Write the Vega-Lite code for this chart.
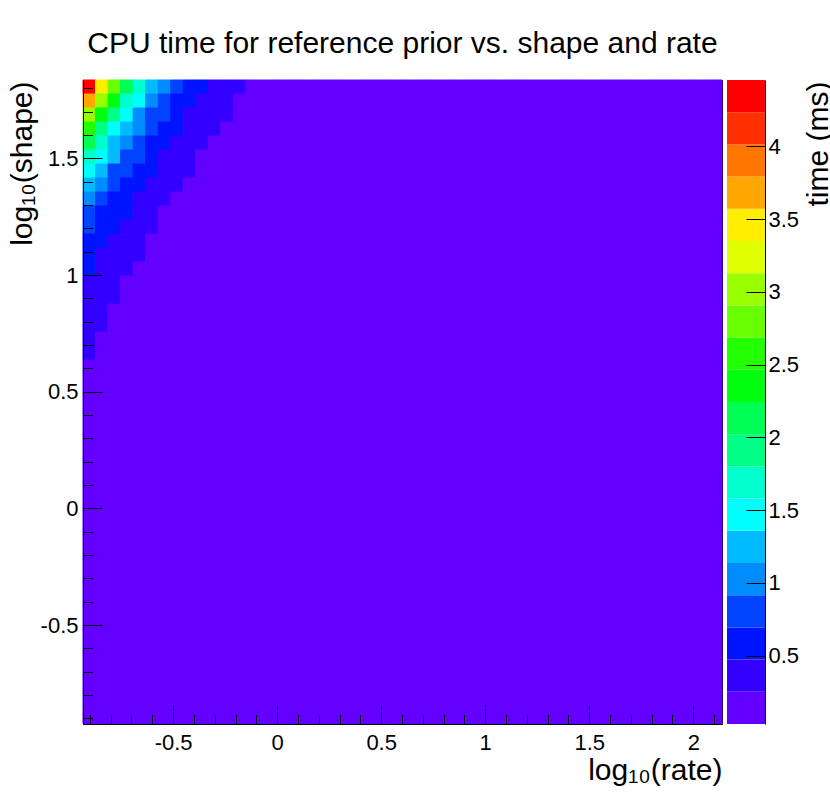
{
  "$schema": "https://vega.github.io/schema/vega-lite/v6.json",
  "width": 639,
  "height": 644,
  "autosize": {"type": "none"},
  "padding": {"left": 83, "top": 80, "right": 108, "bottom": 82},
  "background": "white",
  "config": {
    "font": "Liberation Sans",
    "view": {"stroke": "#000", "strokeWidth": 1},
    "axis": {"zindex": 2, "grid": false, "domainColor": "#000", "tickColor": "#000", "labelColor": "#000", "titleColor": "#000", "labelFont": "Liberation Sans", "titleFont": "Liberation Sans", "labelFontSize": 22, "titleFontSize": 30, "titleFontWeight": "normal", "domainWidth": 1, "tickWidth": 1, "labelFlush": false, "labelOverlap": false}
  },
  "title": {"text": "CPU time for reference prior vs. shape and rate", "fontSize": 30, "fontWeight": "normal", "font": "Liberation Sans", "color": "#000", "anchor": "middle", "baseline": "alphabetic", "offset": -3, "frame": "group"},
  "datasets": {
    "rates": [
      {"i":1,"r0":-0.933,"r1":-0.87278},{"i":2,"r0":-0.87278,"r1":-0.81257},{"i":3,"r0":-0.81257,"r1":-0.75235},{"i":4,"r0":-0.75235,"r1":-0.69214},{"i":5,"r0":-0.69214,"r1":-0.63192},
      {"i":6,"r0":-0.63192,"r1":-0.5717},{"i":7,"r0":-0.5717,"r1":-0.51149},{"i":8,"r0":-0.51149,"r1":-0.45127},{"i":9,"r0":-0.45127,"r1":-0.39106},{"i":10,"r0":-0.39106,"r1":-0.33084},
      {"i":11,"r0":-0.33084,"r1":-0.27062},{"i":12,"r0":-0.27062,"r1":-0.21041},{"i":13,"r0":-0.21041,"r1":-0.15019},{"i":14,"r0":-0.15019,"r1":-0.08998},{"i":15,"r0":-0.08998,"r1":-0.02976},
      {"i":16,"r0":-0.02976,"r1":0.03046},{"i":17,"r0":0.03046,"r1":0.09067},{"i":18,"r0":0.09067,"r1":0.15089},{"i":19,"r0":0.15089,"r1":0.2111},{"i":20,"r0":0.2111,"r1":0.27132},
      {"i":21,"r0":0.27132,"r1":0.33154},{"i":22,"r0":0.33154,"r1":0.39175},{"i":23,"r0":0.39175,"r1":0.45197},{"i":24,"r0":0.45197,"r1":0.51218},{"i":25,"r0":0.51218,"r1":0.5724},
      {"i":26,"r0":0.5724,"r1":0.63262},{"i":27,"r0":0.63262,"r1":0.69283},{"i":28,"r0":0.69283,"r1":0.75305},{"i":29,"r0":0.75305,"r1":0.81326},{"i":30,"r0":0.81326,"r1":0.87348},
      {"i":31,"r0":0.87348,"r1":0.9337},{"i":32,"r0":0.9337,"r1":0.99391},{"i":33,"r0":0.99391,"r1":1.05413},{"i":34,"r0":1.05413,"r1":1.11434},{"i":35,"r0":1.11434,"r1":1.17456},
      {"i":36,"r0":1.17456,"r1":1.23478},{"i":37,"r0":1.23478,"r1":1.29499},{"i":38,"r0":1.29499,"r1":1.35521},{"i":39,"r0":1.35521,"r1":1.41542},{"i":40,"r0":1.41542,"r1":1.47564},
      {"i":41,"r0":1.47564,"r1":1.53586},{"i":42,"r0":1.53586,"r1":1.59607},{"i":43,"r0":1.59607,"r1":1.65629},{"i":44,"r0":1.65629,"r1":1.7165},{"i":45,"r0":1.7165,"r1":1.77672},
      {"i":46,"r0":1.77672,"r1":1.83694},{"i":47,"r0":1.83694,"r1":1.89715},{"i":48,"r0":1.89715,"r1":1.95737},{"i":49,"r0":1.95737,"r1":2.01758},{"i":50,"r0":2.01758,"r1":2.0778},
      {"i":51,"r0":2.0778,"r1":2.138}
    ],
    "cells": [
      {"s0":1.776,"s1":1.836,"t":[4.45,3.46,2.8,2.13,1.69,1.25,1.03,0.81,0.58,0.58,0.36,0.36,0.36,0.1,0.1,0.1,0.1,0.1,0.1,0.1,0.1,0.1,0.1,0.1,0.1,0.1,0.1,0.1,0.1,0.1,0.1,0.1,0.1,0.1,0.1,0.1,0.1,0.1,0.1,0.1,0.1,0.1,0.1,0.1,0.1,0.1,0.1,0.1,0.1,0.1,0.1]},
      {"s0":1.716,"s1":1.776,"t":[3.68,3.02,2.35,1.69,1.47,1.03,0.81,0.58,0.58,0.36,0.36,0.36,0.1,0.1,0.1,0.1,0.1,0.1,0.1,0.1,0.1,0.1,0.1,0.1,0.1,0.1,0.1,0.1,0.1,0.1,0.1,0.1,0.1,0.1,0.1,0.1,0.1,0.1,0.1,0.1,0.1,0.1,0.1,0.1,0.1,0.1,0.1,0.1,0.1,0.1,0.1]},
      {"s0":1.656,"s1":1.716,"t":[3.02,2.35,1.91,1.47,1.03,0.81,0.81,0.58,0.36,0.36,0.36,0.36,0.1,0.1,0.1,0.1,0.1,0.1,0.1,0.1,0.1,0.1,0.1,0.1,0.1,0.1,0.1,0.1,0.1,0.1,0.1,0.1,0.1,0.1,0.1,0.1,0.1,0.1,0.1,0.1,0.1,0.1,0.1,0.1,0.1,0.1,0.1,0.1,0.1,0.1,0.1]},
      {"s0":1.596,"s1":1.656,"t":[2.58,1.91,1.47,1.25,1.03,0.81,0.58,0.58,0.36,0.36,0.36,0.1,0.1,0.1,0.1,0.1,0.1,0.1,0.1,0.1,0.1,0.1,0.1,0.1,0.1,0.1,0.1,0.1,0.1,0.1,0.1,0.1,0.1,0.1,0.1,0.1,0.1,0.1,0.1,0.1,0.1,0.1,0.1,0.1,0.1,0.1,0.1,0.1,0.1,0.1,0.1]},
      {"s0":1.536,"s1":1.596,"t":[2.13,1.69,1.25,1.03,0.81,0.58,0.58,0.36,0.36,0.36,0.1,0.1,0.1,0.1,0.1,0.1,0.1,0.1,0.1,0.1,0.1,0.1,0.1,0.1,0.1,0.1,0.1,0.1,0.1,0.1,0.1,0.1,0.1,0.1,0.1,0.1,0.1,0.1,0.1,0.1,0.1,0.1,0.1,0.1,0.1,0.1,0.1,0.1,0.1,0.1,0.1]},
      {"s0":1.476,"s1":1.536,"t":[1.69,1.47,1.25,0.81,0.81,0.58,0.36,0.36,0.36,0.1,0.1,0.1,0.1,0.1,0.1,0.1,0.1,0.1,0.1,0.1,0.1,0.1,0.1,0.1,0.1,0.1,0.1,0.1,0.1,0.1,0.1,0.1,0.1,0.1,0.1,0.1,0.1,0.1,0.1,0.1,0.1,0.1,0.1,0.1,0.1,0.1,0.1,0.1,0.1,0.1,0.1]},
      {"s0":1.416,"s1":1.476,"t":[1.47,1.25,0.81,0.81,0.58,0.58,0.36,0.36,0.36,0.1,0.1,0.1,0.1,0.1,0.1,0.1,0.1,0.1,0.1,0.1,0.1,0.1,0.1,0.1,0.1,0.1,0.1,0.1,0.1,0.1,0.1,0.1,0.1,0.1,0.1,0.1,0.1,0.1,0.1,0.1,0.1,0.1,0.1,0.1,0.1,0.1,0.1,0.1,0.1,0.1,0.1]},
      {"s0":1.356,"s1":1.416,"t":[1.25,1.03,0.81,0.58,0.58,0.36,0.36,0.36,0.1,0.1,0.1,0.1,0.1,0.1,0.1,0.1,0.1,0.1,0.1,0.1,0.1,0.1,0.1,0.1,0.1,0.1,0.1,0.1,0.1,0.1,0.1,0.1,0.1,0.1,0.1,0.1,0.1,0.1,0.1,0.1,0.1,0.1,0.1,0.1,0.1,0.1,0.1,0.1,0.1,0.1,0.1]},
      {"s0":1.296,"s1":1.356,"t":[1.03,0.81,0.58,0.58,0.36,0.36,0.36,0.1,0.1,0.1,0.1,0.1,0.1,0.1,0.1,0.1,0.1,0.1,0.1,0.1,0.1,0.1,0.1,0.1,0.1,0.1,0.1,0.1,0.1,0.1,0.1,0.1,0.1,0.1,0.1,0.1,0.1,0.1,0.1,0.1,0.1,0.1,0.1,0.1,0.1,0.1,0.1,0.1,0.1,0.1,0.1]},
      {"s0":1.236,"s1":1.296,"t":[0.81,0.58,0.58,0.58,0.36,0.36,0.1,0.1,0.1,0.1,0.1,0.1,0.1,0.1,0.1,0.1,0.1,0.1,0.1,0.1,0.1,0.1,0.1,0.1,0.1,0.1,0.1,0.1,0.1,0.1,0.1,0.1,0.1,0.1,0.1,0.1,0.1,0.1,0.1,0.1,0.1,0.1,0.1,0.1,0.1,0.1,0.1,0.1,0.1,0.1,0.1]},
      {"s0":1.176,"s1":1.236,"t":[0.81,0.58,0.58,0.36,0.36,0.36,0.1,0.1,0.1,0.1,0.1,0.1,0.1,0.1,0.1,0.1,0.1,0.1,0.1,0.1,0.1,0.1,0.1,0.1,0.1,0.1,0.1,0.1,0.1,0.1,0.1,0.1,0.1,0.1,0.1,0.1,0.1,0.1,0.1,0.1,0.1,0.1,0.1,0.1,0.1,0.1,0.1,0.1,0.1,0.1,0.1]},
      {"s0":1.116,"s1":1.176,"t":[0.58,0.58,0.36,0.36,0.36,0.1,0.1,0.1,0.1,0.1,0.1,0.1,0.1,0.1,0.1,0.1,0.1,0.1,0.1,0.1,0.1,0.1,0.1,0.1,0.1,0.1,0.1,0.1,0.1,0.1,0.1,0.1,0.1,0.1,0.1,0.1,0.1,0.1,0.1,0.1,0.1,0.1,0.1,0.1,0.1,0.1,0.1,0.1,0.1,0.1,0.1]},
      {"s0":1.056,"s1":1.116,"t":[0.58,0.36,0.36,0.36,0.36,0.1,0.1,0.1,0.1,0.1,0.1,0.1,0.1,0.1,0.1,0.1,0.1,0.1,0.1,0.1,0.1,0.1,0.1,0.1,0.1,0.1,0.1,0.1,0.1,0.1,0.1,0.1,0.1,0.1,0.1,0.1,0.1,0.1,0.1,0.1,0.1,0.1,0.1,0.1,0.1,0.1,0.1,0.1,0.1,0.1,0.1]},
      {"s0":0.996,"s1":1.056,"t":[0.58,0.36,0.36,0.36,0.1,0.1,0.1,0.1,0.1,0.1,0.1,0.1,0.1,0.1,0.1,0.1,0.1,0.1,0.1,0.1,0.1,0.1,0.1,0.1,0.1,0.1,0.1,0.1,0.1,0.1,0.1,0.1,0.1,0.1,0.1,0.1,0.1,0.1,0.1,0.1,0.1,0.1,0.1,0.1,0.1,0.1,0.1,0.1,0.1,0.1,0.1]},
      {"s0":0.936,"s1":0.996,"t":[0.36,0.36,0.36,0.1,0.1,0.1,0.1,0.1,0.1,0.1,0.1,0.1,0.1,0.1,0.1,0.1,0.1,0.1,0.1,0.1,0.1,0.1,0.1,0.1,0.1,0.1,0.1,0.1,0.1,0.1,0.1,0.1,0.1,0.1,0.1,0.1,0.1,0.1,0.1,0.1,0.1,0.1,0.1,0.1,0.1,0.1,0.1,0.1,0.1,0.1,0.1]},
      {"s0":0.876,"s1":0.936,"t":[0.36,0.36,0.36,0.1,0.1,0.1,0.1,0.1,0.1,0.1,0.1,0.1,0.1,0.1,0.1,0.1,0.1,0.1,0.1,0.1,0.1,0.1,0.1,0.1,0.1,0.1,0.1,0.1,0.1,0.1,0.1,0.1,0.1,0.1,0.1,0.1,0.1,0.1,0.1,0.1,0.1,0.1,0.1,0.1,0.1,0.1,0.1,0.1,0.1,0.1,0.1]},
      {"s0":0.816,"s1":0.876,"t":[0.36,0.36,0.1,0.1,0.1,0.1,0.1,0.1,0.1,0.1,0.1,0.1,0.1,0.1,0.1,0.1,0.1,0.1,0.1,0.1,0.1,0.1,0.1,0.1,0.1,0.1,0.1,0.1,0.1,0.1,0.1,0.1,0.1,0.1,0.1,0.1,0.1,0.1,0.1,0.1,0.1,0.1,0.1,0.1,0.1,0.1,0.1,0.1,0.1,0.1,0.1]},
      {"s0":0.756,"s1":0.816,"t":[0.36,0.36,0.1,0.1,0.1,0.1,0.1,0.1,0.1,0.1,0.1,0.1,0.1,0.1,0.1,0.1,0.1,0.1,0.1,0.1,0.1,0.1,0.1,0.1,0.1,0.1,0.1,0.1,0.1,0.1,0.1,0.1,0.1,0.1,0.1,0.1,0.1,0.1,0.1,0.1,0.1,0.1,0.1,0.1,0.1,0.1,0.1,0.1,0.1,0.1,0.1]},
      {"s0":0.696,"s1":0.756,"t":[0.36,0.1,0.1,0.1,0.1,0.1,0.1,0.1,0.1,0.1,0.1,0.1,0.1,0.1,0.1,0.1,0.1,0.1,0.1,0.1,0.1,0.1,0.1,0.1,0.1,0.1,0.1,0.1,0.1,0.1,0.1,0.1,0.1,0.1,0.1,0.1,0.1,0.1,0.1,0.1,0.1,0.1,0.1,0.1,0.1,0.1,0.1,0.1,0.1,0.1,0.1]},
      {"s0":0.636,"s1":0.696,"t":[0.36,0.1,0.1,0.1,0.1,0.1,0.1,0.1,0.1,0.1,0.1,0.1,0.1,0.1,0.1,0.1,0.1,0.1,0.1,0.1,0.1,0.1,0.1,0.1,0.1,0.1,0.1,0.1,0.1,0.1,0.1,0.1,0.1,0.1,0.1,0.1,0.1,0.1,0.1,0.1,0.1,0.1,0.1,0.1,0.1,0.1,0.1,0.1,0.1,0.1,0.1]},
      {"s0":0.576,"s1":0.636,"t":[0.1,0.1,0.1,0.1,0.1,0.1,0.1,0.1,0.1,0.1,0.1,0.1,0.1,0.1,0.1,0.1,0.1,0.1,0.1,0.1,0.1,0.1,0.1,0.1,0.1,0.1,0.1,0.1,0.1,0.1,0.1,0.1,0.1,0.1,0.1,0.1,0.1,0.1,0.1,0.1,0.1,0.1,0.1,0.1,0.1,0.1,0.1,0.1,0.1,0.1,0.1]},
      {"s0":0.516,"s1":0.576,"t":[0.1,0.1,0.1,0.1,0.1,0.1,0.1,0.1,0.1,0.1,0.1,0.1,0.1,0.1,0.1,0.1,0.1,0.1,0.1,0.1,0.1,0.1,0.1,0.1,0.1,0.1,0.1,0.1,0.1,0.1,0.1,0.1,0.1,0.1,0.1,0.1,0.1,0.1,0.1,0.1,0.1,0.1,0.1,0.1,0.1,0.1,0.1,0.1,0.1,0.1,0.1]},
      {"s0":0.456,"s1":0.516,"t":[0.1,0.1,0.1,0.1,0.1,0.1,0.1,0.1,0.1,0.1,0.1,0.1,0.1,0.1,0.1,0.1,0.1,0.1,0.1,0.1,0.1,0.1,0.1,0.1,0.1,0.1,0.1,0.1,0.1,0.1,0.1,0.1,0.1,0.1,0.1,0.1,0.1,0.1,0.1,0.1,0.1,0.1,0.1,0.1,0.1,0.1,0.1,0.1,0.1,0.1,0.1]},
      {"s0":0.396,"s1":0.456,"t":[0.1,0.1,0.1,0.1,0.1,0.1,0.1,0.1,0.1,0.1,0.1,0.1,0.1,0.1,0.1,0.1,0.1,0.1,0.1,0.1,0.1,0.1,0.1,0.1,0.1,0.1,0.1,0.1,0.1,0.1,0.1,0.1,0.1,0.1,0.1,0.1,0.1,0.1,0.1,0.1,0.1,0.1,0.1,0.1,0.1,0.1,0.1,0.1,0.1,0.1,0.1]},
      {"s0":0.336,"s1":0.396,"t":[0.1,0.1,0.1,0.1,0.1,0.1,0.1,0.1,0.1,0.1,0.1,0.1,0.1,0.1,0.1,0.1,0.1,0.1,0.1,0.1,0.1,0.1,0.1,0.1,0.1,0.1,0.1,0.1,0.1,0.1,0.1,0.1,0.1,0.1,0.1,0.1,0.1,0.1,0.1,0.1,0.1,0.1,0.1,0.1,0.1,0.1,0.1,0.1,0.1,0.1,0.1]},
      {"s0":0.276,"s1":0.336,"t":[0.1,0.1,0.1,0.1,0.1,0.1,0.1,0.1,0.1,0.1,0.1,0.1,0.1,0.1,0.1,0.1,0.1,0.1,0.1,0.1,0.1,0.1,0.1,0.1,0.1,0.1,0.1,0.1,0.1,0.1,0.1,0.1,0.1,0.1,0.1,0.1,0.1,0.1,0.1,0.1,0.1,0.1,0.1,0.1,0.1,0.1,0.1,0.1,0.1,0.1,0.1]},
      {"s0":0.216,"s1":0.276,"t":[0.1,0.1,0.1,0.1,0.1,0.1,0.1,0.1,0.1,0.1,0.1,0.1,0.1,0.1,0.1,0.1,0.1,0.1,0.1,0.1,0.1,0.1,0.1,0.1,0.1,0.1,0.1,0.1,0.1,0.1,0.1,0.1,0.1,0.1,0.1,0.1,0.1,0.1,0.1,0.1,0.1,0.1,0.1,0.1,0.1,0.1,0.1,0.1,0.1,0.1,0.1]},
      {"s0":0.156,"s1":0.216,"t":[0.1,0.1,0.1,0.1,0.1,0.1,0.1,0.1,0.1,0.1,0.1,0.1,0.1,0.1,0.1,0.1,0.1,0.1,0.1,0.1,0.1,0.1,0.1,0.1,0.1,0.1,0.1,0.1,0.1,0.1,0.1,0.1,0.1,0.1,0.1,0.1,0.1,0.1,0.1,0.1,0.1,0.1,0.1,0.1,0.1,0.1,0.1,0.1,0.1,0.1,0.1]},
      {"s0":0.096,"s1":0.156,"t":[0.1,0.1,0.1,0.1,0.1,0.1,0.1,0.1,0.1,0.1,0.1,0.1,0.1,0.1,0.1,0.1,0.1,0.1,0.1,0.1,0.1,0.1,0.1,0.1,0.1,0.1,0.1,0.1,0.1,0.1,0.1,0.1,0.1,0.1,0.1,0.1,0.1,0.1,0.1,0.1,0.1,0.1,0.1,0.1,0.1,0.1,0.1,0.1,0.1,0.1,0.1]},
      {"s0":0.036,"s1":0.096,"t":[0.1,0.1,0.1,0.1,0.1,0.1,0.1,0.1,0.1,0.1,0.1,0.1,0.1,0.1,0.1,0.1,0.1,0.1,0.1,0.1,0.1,0.1,0.1,0.1,0.1,0.1,0.1,0.1,0.1,0.1,0.1,0.1,0.1,0.1,0.1,0.1,0.1,0.1,0.1,0.1,0.1,0.1,0.1,0.1,0.1,0.1,0.1,0.1,0.1,0.1,0.1]},
      {"s0":-0.024,"s1":0.036,"t":[0.1,0.1,0.1,0.1,0.1,0.1,0.1,0.1,0.1,0.1,0.1,0.1,0.1,0.1,0.1,0.1,0.1,0.1,0.1,0.1,0.1,0.1,0.1,0.1,0.1,0.1,0.1,0.1,0.1,0.1,0.1,0.1,0.1,0.1,0.1,0.1,0.1,0.1,0.1,0.1,0.1,0.1,0.1,0.1,0.1,0.1,0.1,0.1,0.1,0.1,0.1]},
      {"s0":-0.084,"s1":-0.024,"t":[0.1,0.1,0.1,0.1,0.1,0.1,0.1,0.1,0.1,0.1,0.1,0.1,0.1,0.1,0.1,0.1,0.1,0.1,0.1,0.1,0.1,0.1,0.1,0.1,0.1,0.1,0.1,0.1,0.1,0.1,0.1,0.1,0.1,0.1,0.1,0.1,0.1,0.1,0.1,0.1,0.1,0.1,0.1,0.1,0.1,0.1,0.1,0.1,0.1,0.1,0.1]},
      {"s0":-0.144,"s1":-0.084,"t":[0.1,0.1,0.1,0.1,0.1,0.1,0.1,0.1,0.1,0.1,0.1,0.1,0.1,0.1,0.1,0.1,0.1,0.1,0.1,0.1,0.1,0.1,0.1,0.1,0.1,0.1,0.1,0.1,0.1,0.1,0.1,0.1,0.1,0.1,0.1,0.1,0.1,0.1,0.1,0.1,0.1,0.1,0.1,0.1,0.1,0.1,0.1,0.1,0.1,0.1,0.1]},
      {"s0":-0.204,"s1":-0.144,"t":[0.1,0.1,0.1,0.1,0.1,0.1,0.1,0.1,0.1,0.1,0.1,0.1,0.1,0.1,0.1,0.1,0.1,0.1,0.1,0.1,0.1,0.1,0.1,0.1,0.1,0.1,0.1,0.1,0.1,0.1,0.1,0.1,0.1,0.1,0.1,0.1,0.1,0.1,0.1,0.1,0.1,0.1,0.1,0.1,0.1,0.1,0.1,0.1,0.1,0.1,0.1]},
      {"s0":-0.264,"s1":-0.204,"t":[0.1,0.1,0.1,0.1,0.1,0.1,0.1,0.1,0.1,0.1,0.1,0.1,0.1,0.1,0.1,0.1,0.1,0.1,0.1,0.1,0.1,0.1,0.1,0.1,0.1,0.1,0.1,0.1,0.1,0.1,0.1,0.1,0.1,0.1,0.1,0.1,0.1,0.1,0.1,0.1,0.1,0.1,0.1,0.1,0.1,0.1,0.1,0.1,0.1,0.1,0.1]},
      {"s0":-0.324,"s1":-0.264,"t":[0.1,0.1,0.1,0.1,0.1,0.1,0.1,0.1,0.1,0.1,0.1,0.1,0.1,0.1,0.1,0.1,0.1,0.1,0.1,0.1,0.1,0.1,0.1,0.1,0.1,0.1,0.1,0.1,0.1,0.1,0.1,0.1,0.1,0.1,0.1,0.1,0.1,0.1,0.1,0.1,0.1,0.1,0.1,0.1,0.1,0.1,0.1,0.1,0.1,0.1,0.1]},
      {"s0":-0.384,"s1":-0.324,"t":[0.1,0.1,0.1,0.1,0.1,0.1,0.1,0.1,0.1,0.1,0.1,0.1,0.1,0.1,0.1,0.1,0.1,0.1,0.1,0.1,0.1,0.1,0.1,0.1,0.1,0.1,0.1,0.1,0.1,0.1,0.1,0.1,0.1,0.1,0.1,0.1,0.1,0.1,0.1,0.1,0.1,0.1,0.1,0.1,0.1,0.1,0.1,0.1,0.1,0.1,0.1]},
      {"s0":-0.444,"s1":-0.384,"t":[0.1,0.1,0.1,0.1,0.1,0.1,0.1,0.1,0.1,0.1,0.1,0.1,0.1,0.1,0.1,0.1,0.1,0.1,0.1,0.1,0.1,0.1,0.1,0.1,0.1,0.1,0.1,0.1,0.1,0.1,0.1,0.1,0.1,0.1,0.1,0.1,0.1,0.1,0.1,0.1,0.1,0.1,0.1,0.1,0.1,0.1,0.1,0.1,0.1,0.1,0.1]},
      {"s0":-0.504,"s1":-0.444,"t":[0.1,0.1,0.1,0.1,0.1,0.1,0.1,0.1,0.1,0.1,0.1,0.1,0.1,0.1,0.1,0.1,0.1,0.1,0.1,0.1,0.1,0.1,0.1,0.1,0.1,0.1,0.1,0.1,0.1,0.1,0.1,0.1,0.1,0.1,0.1,0.1,0.1,0.1,0.1,0.1,0.1,0.1,0.1,0.1,0.1,0.1,0.1,0.1,0.1,0.1,0.1]},
      {"s0":-0.564,"s1":-0.504,"t":[0.1,0.1,0.1,0.1,0.1,0.1,0.1,0.1,0.1,0.1,0.1,0.1,0.1,0.1,0.1,0.1,0.1,0.1,0.1,0.1,0.1,0.1,0.1,0.1,0.1,0.1,0.1,0.1,0.1,0.1,0.1,0.1,0.1,0.1,0.1,0.1,0.1,0.1,0.1,0.1,0.1,0.1,0.1,0.1,0.1,0.1,0.1,0.1,0.1,0.1,0.1]},
      {"s0":-0.624,"s1":-0.564,"t":[0.1,0.1,0.1,0.1,0.1,0.1,0.1,0.1,0.1,0.1,0.1,0.1,0.1,0.1,0.1,0.1,0.1,0.1,0.1,0.1,0.1,0.1,0.1,0.1,0.1,0.1,0.1,0.1,0.1,0.1,0.1,0.1,0.1,0.1,0.1,0.1,0.1,0.1,0.1,0.1,0.1,0.1,0.1,0.1,0.1,0.1,0.1,0.1,0.1,0.1,0.1]},
      {"s0":-0.684,"s1":-0.624,"t":[0.1,0.1,0.1,0.1,0.1,0.1,0.1,0.1,0.1,0.1,0.1,0.1,0.1,0.1,0.1,0.1,0.1,0.1,0.1,0.1,0.1,0.1,0.1,0.1,0.1,0.1,0.1,0.1,0.1,0.1,0.1,0.1,0.1,0.1,0.1,0.1,0.1,0.1,0.1,0.1,0.1,0.1,0.1,0.1,0.1,0.1,0.1,0.1,0.1,0.1,0.1]},
      {"s0":-0.744,"s1":-0.684,"t":[0.1,0.1,0.1,0.1,0.1,0.1,0.1,0.1,0.1,0.1,0.1,0.1,0.1,0.1,0.1,0.1,0.1,0.1,0.1,0.1,0.1,0.1,0.1,0.1,0.1,0.1,0.1,0.1,0.1,0.1,0.1,0.1,0.1,0.1,0.1,0.1,0.1,0.1,0.1,0.1,0.1,0.1,0.1,0.1,0.1,0.1,0.1,0.1,0.1,0.1,0.1]},
      {"s0":-0.804,"s1":-0.744,"t":[0.1,0.1,0.1,0.1,0.1,0.1,0.1,0.1,0.1,0.1,0.1,0.1,0.1,0.1,0.1,0.1,0.1,0.1,0.1,0.1,0.1,0.1,0.1,0.1,0.1,0.1,0.1,0.1,0.1,0.1,0.1,0.1,0.1,0.1,0.1,0.1,0.1,0.1,0.1,0.1,0.1,0.1,0.1,0.1,0.1,0.1,0.1,0.1,0.1,0.1,0.1]},
      {"s0":-0.864,"s1":-0.804,"t":[0.1,0.1,0.1,0.1,0.1,0.1,0.1,0.1,0.1,0.1,0.1,0.1,0.1,0.1,0.1,0.1,0.1,0.1,0.1,0.1,0.1,0.1,0.1,0.1,0.1,0.1,0.1,0.1,0.1,0.1,0.1,0.1,0.1,0.1,0.1,0.1,0.1,0.1,0.1,0.1,0.1,0.1,0.1,0.1,0.1,0.1,0.1,0.1,0.1,0.1,0.1]},
      {"s0":-0.924,"s1":-0.864,"t":[0.1,0.1,0.1,0.1,0.1,0.1,0.1,0.1,0.1,0.1,0.1,0.1,0.1,0.1,0.1,0.1,0.1,0.1,0.1,0.1,0.1,0.1,0.1,0.1,0.1,0.1,0.1,0.1,0.1,0.1,0.1,0.1,0.1,0.1,0.1,0.1,0.1,0.1,0.1,0.1,0.1,0.1,0.1,0.1,0.1,0.1,0.1,0.1,0.1,0.1,0.1]}
    ],
    "bands": [
      {"lo":0.031,"hi":0.2522,"t":0.14},{"lo":0.2522,"hi":0.4734,"t":0.36},{"lo":0.4734,"hi":0.6946,"t":0.58},{"lo":0.6946,"hi":0.9158,"t":0.81},
      {"lo":0.9158,"hi":1.137,"t":1.03},{"lo":1.137,"hi":1.3582,"t":1.25},{"lo":1.3582,"hi":1.5794,"t":1.47},{"lo":1.5794,"hi":1.8006,"t":1.69},
      {"lo":1.8006,"hi":2.0218,"t":1.91},{"lo":2.0218,"hi":2.243,"t":2.13},{"lo":2.243,"hi":2.4642,"t":2.35},{"lo":2.4642,"hi":2.6854,"t":2.58},
      {"lo":2.6854,"hi":2.9066,"t":2.8},{"lo":2.9066,"hi":3.1278,"t":3.02},{"lo":3.1278,"hi":3.349,"t":3.24},{"lo":3.349,"hi":3.5702,"t":3.46},
      {"lo":3.5702,"hi":3.7914,"t":3.68},{"lo":3.7914,"hi":4.0126,"t":3.9},{"lo":4.0126,"hi":4.2338,"t":4.12},{"lo":4.2338,"hi":4.455,"t":4.34}
    ]
  },
  "layer": [
    {
      "data": {"name": "cells"},
      "transform": [
        {"flatten": ["t"]},
        {"window": [{"op": "row_number", "as": "i"}], "groupby": ["s0"]},
        {"lookup": "i", "from": {"data": {"name": "rates"}, "key": "i", "fields": ["r0", "r1"]}}
      ],
      "mark": {"type": "rect", "strokeWidth": 1},
      "encoding": {
        "x": {"field": "r0", "type": "quantitative", "scale": {"domain": [-0.933, 2.138], "nice": false, "zero": false},
          "axis": {"orient": "bottom", "zindex": 2, "values": [-0.5, 0, 0.5, 1, 1.5, 2], "tickSize": -19, "labelPadding": 27, "labelExpr": "toString(datum.value)", "title": "log₁₀(rate)", "titleX": 639, "titleY": 55, "titleAlign": "right", "titleBaseline": "alphabetic"}},
        "x2": {"field": "r1"},
        "y": {"field": "s0", "type": "quantitative", "scale": {"domain": [-0.924, 1.836], "nice": false, "zero": false},
          "axis": {"orient": "left", "zindex": 2, "values": [-0.5, 0, 0.5, 1, 1.5], "tickSize": -19, "labelPadding": 24, "labelExpr": "toString(datum.value)", "title": "log₁₀(shape)", "titleAngle": -90, "titleX": -52, "titleY": 1, "titleAlign": "right", "titleBaseline": "alphabetic"}},
        "y2": {"field": "s1"},
        "color": {"field": "t", "type": "quantitative", "legend": null,
          "scale": {"type": "threshold",
            "domain": [0.2522, 0.4734, 0.6946, 0.9158, 1.137, 1.3582, 1.5794, 1.8006, 2.0218, 2.243, 2.4642, 2.6854, 2.9066, 3.1278, 3.349, 3.5702, 3.7914, 4.0126, 4.2338],
            "range": ["#6300FF", "#3300FF", "#0014FF", "#0044FF", "#008BFF", "#00BBFF", "#00FFFC", "#00FFCC", "#00FF85", "#00FF55", "#00FF0E", "#22FF00", "#69FF00", "#99FF00", "#E0FF00", "#FFEE00", "#FFA700", "#FF7700", "#FF3000", "#FF0000"]}},
        "stroke": {"field": "t", "type": "quantitative", "legend": null,
          "scale": {"type": "threshold",
            "domain": [0.2522, 0.4734, 0.6946, 0.9158, 1.137, 1.3582, 1.5794, 1.8006, 2.0218, 2.243, 2.4642, 2.6854, 2.9066, 3.1278, 3.349, 3.5702, 3.7914, 4.0126, 4.2338],
            "range": ["#6300FF", "#3300FF", "#0014FF", "#0044FF", "#008BFF", "#00BBFF", "#00FFFC", "#00FFCC", "#00FF85", "#00FF55", "#00FF0E", "#22FF00", "#69FF00", "#99FF00", "#E0FF00", "#FFEE00", "#FFA700", "#FF7700", "#FF3000", "#FF0000"]}}
      }
    },
    {
      "data": {"values": [{}]},
      "mark": {"type": "point", "opacity": 0},
      "encoding": {
        "x": {"datum": 0, "type": "quantitative", "scale": {"domain": [-0.933, 2.138], "nice": false, "zero": false},
          "axis": {"orient": "bottom", "zindex": 2, "values": [-0.9, -0.8, -0.7, -0.6, -0.4, -0.3, -0.2, -0.1, 0.1, 0.2, 0.3, 0.4, 0.6, 0.7, 0.8, 0.9, 1.1, 1.2, 1.3, 1.4, 1.6, 1.7, 1.8, 1.9, 2.1], "tickSize": -9.5, "labels": false, "domain": false, "title": null}},
        "y": {"datum": 0, "type": "quantitative", "scale": {"domain": [-0.924, 1.836], "nice": false, "zero": false},
          "axis": {"orient": "left", "zindex": 2, "values": [-0.9, -0.8, -0.7, -0.6, -0.4, -0.3, -0.2, -0.1, 0.1, 0.2, 0.3, 0.4, 0.6, 0.7, 0.8, 0.9, 1.1, 1.2, 1.3, 1.4, 1.6, 1.7, 1.8], "tickSize": -9.5, "labels": false, "domain": false, "title": null}}
      }
    },
    {
      "data": {"name": "bands"},
      "mark": {"type": "rect", "strokeWidth": 0},
      "encoding": {
        "x": {"datum": 0, "type": "quantitative", "scale": {"domain": [-16.947, -0.1316], "nice": false, "zero": false}, "axis": null},
        "x2": {"datum": 1},
        "y": {"field": "lo", "type": "quantitative", "scale": {"domain": [0.031, 4.455], "nice": false, "zero": false},
          "axis": {"orient": "right", "zindex": 2, "offset": 43, "values": [0.5, 1, 1.5, 2, 2.5, 3, 3.5, 4], "tickSize": -19, "labelPadding": 22, "labelExpr": "toString(datum.value)", "title": "time (ms)", "titleAngle": -90, "titleX": 62, "titleY": 1, "titleAlign": "right", "titleBaseline": "alphabetic"}},
        "y2": {"field": "hi"},
        "color": {"field": "t", "type": "quantitative", "legend": null,
          "scale": {"type": "threshold",
            "domain": [0.2522, 0.4734, 0.6946, 0.9158, 1.137, 1.3582, 1.5794, 1.8006, 2.0218, 2.243, 2.4642, 2.6854, 2.9066, 3.1278, 3.349, 3.5702, 3.7914, 4.0126, 4.2338],
            "range": ["#6300FF", "#3300FF", "#0014FF", "#0044FF", "#008BFF", "#00BBFF", "#00FFFC", "#00FFCC", "#00FF85", "#00FF55", "#00FF0E", "#22FF00", "#69FF00", "#99FF00", "#E0FF00", "#FFEE00", "#FFA700", "#FF7700", "#FF3000", "#FF0000"]}}
      }
    }
  ],
  "resolve": {"scale": {"x": "independent", "y": "independent", "color": "shared"}, "axis": {"x": "independent", "y": "independent"}}
}
